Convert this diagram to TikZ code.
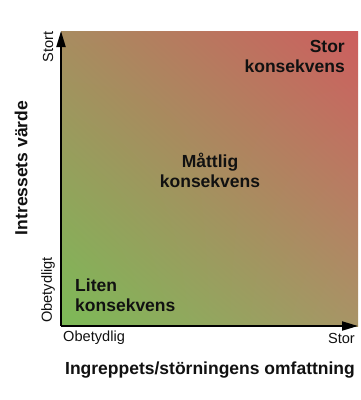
\documentclass[tikz,border=0pt]{standalone}
\usepackage{fontspec}
\setmainfont{Liberation Sans}
\usetikzlibrary{arrows.meta,shadings}
\definecolor{cLL}{HTML}{7CBA57}
\definecolor{cUR}{HTML}{CD5E5E}
\definecolor{cUL}{HTML}{A88C60}
\definecolor{cLR}{HTML}{A89466}
\definecolor{txt}{HTML}{111111}
\tikzset{
  big/.style={font=\fontsize{17.5}{20}\selectfont\bfseries, text=txt, inner sep=0pt},
  small/.style={font=\fontsize{14.6}{17}\selectfont, text=txt, inner sep=0pt},
  axis/.style={line width=2pt, -{Triangle[length=16pt,width=9pt]}},
}
\begin{document}
\begin{tikzpicture}[x=1pt,y=-1pt]
\useasboundingbox (0,0) rectangle (361,400);
\fill[white] (0,0) rectangle (361,400);
\shade[upper left=cUL, upper right=cUR, lower left=cLL, lower right=cLR] (61,31) rectangle (358,326);
\coordinate (o) at (61,326);
\coordinate (ytop) at (61,31);
\coordinate (xend) at (358,326);
\draw[axis] (o) -- (ytop);
\draw[axis] (o) -- (xend);
\node[big, align=right, anchor=north east] (stor) at (345,40) {Stor\\konsekvens};
\node[big, align=center] (matt) at (210,170) {Måttlig\\konsekvens};
\node[big, align=left, anchor=north west] (liten) at (75,279) {Liten\\konsekvens};
\node[small, rotate=90] (ystort) at (48,47) {Stort};
\node[small, rotate=90] (yob) at (48,290) {Obetydligt};
\node[small, anchor=west] (xob) at (63,338) {Obetydlig};
\node[small, anchor=east] (xstor) at (355,338) {Stor};
\node[big, rotate=90] (ylab) at (21,168) {Intressets värde};
\node[big] (xlab) at (210,370) {Ingreppets/störningens omfattning};
\end{tikzpicture}
\end{document}
